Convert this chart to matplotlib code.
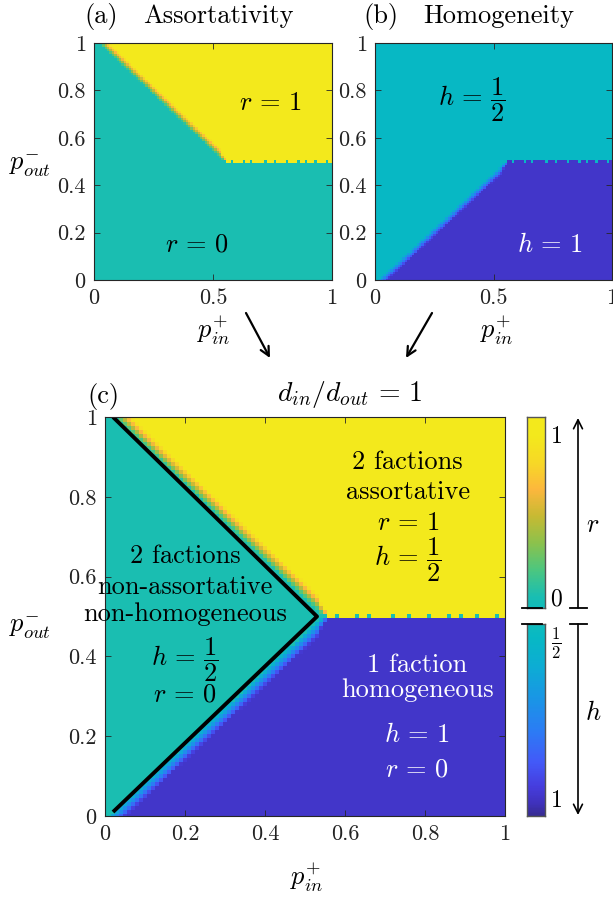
import numpy as np
import matplotlib
matplotlib.use("Agg")
import matplotlib.pyplot as plt
from matplotlib.colors import LinearSegmentedColormap

plt.rcParams['font.family'] = 'serif'
plt.rcParams['font.serif'] = ['cmr10']
plt.rcParams['mathtext.fontset'] = 'cm'
plt.rcParams['axes.formatter.use_mathtext'] = True

# phase boundaries (p_in^+, p_out^-)
upper_x = [0.0, 0.02, 0.545, 1.0]
upper_y = [1.02, 1.0, 0.5, 0.5]
lower_x = [0.0, 0.02, 0.545, 1.0]
lower_y = [-0.01, 0.01, 0.5, 0.5]
# width of the smooth transition band along the boundary
band_x = [0.0, 0.53, 0.56, 1.0]
band_w = [0.04, 0.04, 0.002, 0.002]
# cells on the p_out = 0.5 row that stay in the mixed state
notch_pin = [0.58, 0.63, 0.66, 0.72, 0.76, 0.81, 0.86, 0.89, 0.93, 0.98]
# black separatrix in panel (c)
sep_x = [0.02, 0.53, 0.02]
sep_y = [1.0, 0.5, 0.01]

xticks_small = [0, 0.5, 1]
xticks_big = [0, 0.2, 0.4, 0.6, 0.8, 1]
yticks = [0, 0.2, 0.4, 0.6, 0.8, 1]

# parula-like colormap
parula = LinearSegmentedColormap.from_list('parula', [
    (0.00, (0.208, 0.166, 0.529)),
    (0.04, (0.250, 0.195, 0.740)),
    (0.08, (0.275, 0.240, 0.870)),
    (0.14, (0.265, 0.350, 0.975)),
    (0.22, (0.170, 0.490, 0.960)),
    (0.30, (0.100, 0.590, 0.900)),
    (0.38, (0.050, 0.680, 0.830)),
    (0.45, (0.030, 0.725, 0.770)),
    (0.52, (0.100, 0.745, 0.700)),
    (0.60, (0.300, 0.780, 0.500)),
    (0.68, (0.550, 0.760, 0.300)),
    (0.76, (0.780, 0.730, 0.200)),
    (0.84, (0.990, 0.720, 0.240)),
    (0.92, (0.970, 0.850, 0.150)),
    (1.00, (0.955, 0.915, 0.110)),
])

def r_to_v(r):
    return 0.52 + 0.48 * r

def h_to_v(h):
    return 0.45 - (h - 0.5) / 0.5 * (0.45 - 0.055)

grid = np.linspace(0, 1, 101)
P_in, P_out = np.meshgrid(grid, grid)
up = np.interp(P_in, upper_x, upper_y)
lo = np.interp(P_in, lower_x, lower_y)
w = np.interp(P_in, band_x, band_w)
r = np.clip((P_out - up) / w, 0, 1)
h = 0.5 + 0.5 * np.clip((lo - P_out) / w, 0, 1)

row = 50
flat = grid > 0.555
notch = np.zeros_like(flat)
for p in notch_pin:
    notch[int(round(p * 100))] = True
r[row, flat & ~notch] = 1
h[row, flat & ~notch] = 1

v_a = r_to_v(r)
v_b = h_to_v(h)
v_c = np.where(h > 0.5, v_b, v_a)
v_c[row, flat & ~notch] = 1.0
v_c[row, flat & notch] = r_to_v(0)

W, H = 613, 898
fig = plt.figure(figsize=(W / 100, H / 100), dpi=100)

def box(x0, y0, x1, y1):
    return [x0 / W, (H - y1) / H, (x1 - x0) / W, (y1 - y0) / H]

ext = [-0.005, 1.005, -0.005, 1.005]
edge = '#262626'

def style(ax, xt):
    ax.set_xlim(0, 1)
    ax.set_ylim(0, 1)
    ax.set_xticks(xt)
    ax.set_yticks(yticks)
    ax.set_xticklabels(['%g' % t for t in xt])
    ax.set_yticklabels(['%g' % t for t in yticks])
    ax.tick_params(direction='in', length=4, width=0.6, top=True, right=True,
                   labelsize=16, colors=edge, labelcolor='#222222', pad=6)
    for s in ax.spines.values():
        s.set_color(edge)
        s.set_linewidth(0.8)

half = r'\dfrac{1}{2}'
fs = 19

ax_a = fig.add_axes(box(94, 43, 332, 280))
ax_a.imshow(v_a, cmap=parula, vmin=0, vmax=1, origin='lower', extent=ext,
            interpolation='nearest', aspect='auto')
style(ax_a, xticks_small)
ax_a.text(0.74, 0.747, r'$r\,=\,1$', fontsize=fs, ha='center', va='center')
ax_a.text(0.43, 0.148, r'$r\,=\,0$', fontsize=fs, ha='center', va='center')

ax_b = fig.add_axes(box(375, 43, 612, 280))
ax_b.imshow(v_b, cmap=parula, vmin=0, vmax=1, origin='lower', extent=ext,
            interpolation='nearest', aspect='auto')
style(ax_b, xticks_small)
ax_b.text(0.41, 0.76, r'$h\,=\,%s$' % half, fontsize=fs, ha='center', va='center')
ax_b.text(0.74, 0.148, r'$h\,=\,1$', fontsize=fs, ha='center', va='center', color='white')

ax_c = fig.add_axes(box(105, 417, 505, 816))
ax_c.imshow(v_c, cmap=parula, vmin=0, vmax=1, origin='lower', extent=ext,
            interpolation='nearest', aspect='auto')
ax_c.plot(sep_x, sep_y, color='black', lw=2.8, solid_capstyle='butt')
style(ax_c, xticks_big)
for txt, x, y, c in [
    ('2 factions', 0.757, 0.887, 'black'),
    ('assortative', 0.757, 0.812, 'black'),
    (r'$r\,=\,1$', 0.757, 0.734, 'black'),
    (r'$h\,=\,%s$' % half, 0.757, 0.642, 'black'),
    ('2 factions', 0.2, 0.652, 'black'),
    ('non-assortative', 0.2, 0.574, 'black'),
    ('non-homogeneous', 0.2, 0.506, 'black'),
    (r'$h\,=\,%s$' % half, 0.2, 0.391, 'black'),
    (r'$r\,=\,0$', 0.2, 0.303, 'black'),
    ('1 faction', 0.78, 0.378, 'white'),
    ('homogeneous', 0.78, 0.316, 'white'),
    (r'$h\,=\,1$', 0.78, 0.203, 'white'),
    (r'$r\,=\,0$', 0.78, 0.115, 'white'),
]:
    ax_c.text(x, y, txt, fontsize=fs, ha='center', va='center', color=c)

# split colorbar
cb_r = fig.add_axes(box(527, 417, 545, 608))
r_lim = (-0.068, 1.11)
rg = np.linspace(r_lim[0], r_lim[1], 200)[:, None]
cb_r.imshow(r_to_v(rg), cmap=parula, vmin=0, vmax=1, origin='lower',
            extent=[0, 1, r_lim[0], r_lim[1]], aspect='auto')
cb_r.set_ylim(*r_lim)
cb_r.set_xticks([])
cb_r.yaxis.tick_right()
cb_r.set_yticks([0, 1])
cb_r.set_yticklabels(['0', '1'])

cb_h = fig.add_axes(box(527, 624, 545, 816))
h_lim = (0.46, 1.056)
hg = np.linspace(h_lim[0], h_lim[1], 200)[:, None]
cb_h.imshow(h_to_v(hg), cmap=parula, vmin=0, vmax=1, origin='lower',
            extent=[0, 1, h_lim[0], h_lim[1]], aspect='auto')
cb_h.set_ylim(h_lim[1], h_lim[0])
cb_h.set_xticks([])
cb_h.yaxis.tick_right()
cb_h.set_yticks([0.5, 1])
cb_h.set_yticklabels([r'$\frac{1}{2}$', '1'])
for cb in (cb_r, cb_h):
    cb.tick_params(length=0, labelsize=17, pad=4)
    for s in cb.spines.values():
        s.set_color('#555555')
        s.set_linewidth(1.0)

# overlay in pixel coordinates for titles, labels and arrows
ov = fig.add_axes([0, 0, 1, 1])
ov.set_xlim(0, W)
ov.set_ylim(H, 0)
ov.axis('off')

ov.text(101, 16, '(a)', fontsize=fs, ha='center', va='center')
ov.text(218, 16, 'Assortativity', fontsize=fs, ha='center', va='center')
ov.text(381, 16, '(b)', fontsize=fs, ha='center', va='center')
ov.text(499, 16, 'Homogeneity', fontsize=fs, ha='center', va='center')
ov.text(103, 396, '(c)', fontsize=fs, ha='center', va='center')
ov.text(350, 394, r'$d_{in}/d_{out}\,=\,1$', fontsize=20, ha='center', va='center')

ov.text(30, 166, r'$p_{out}^{-}$', fontsize=fs, ha='center', va='center')
ov.text(30, 628, r'$p_{out}^{-}$', fontsize=fs, ha='center', va='center')
ov.text(214, 330, r'$p_{in}^{+}$', fontsize=fs, ha='center', va='center')
ov.text(497, 330, r'$p_{in}^{+}$', fontsize=fs, ha='center', va='center')
ov.text(307, 877, r'$p_{in}^{+}$', fontsize=fs, ha='center', va='center')

arrow = dict(arrowstyle='->', color='black', lw=1.6, mutation_scale=16, shrinkA=0, shrinkB=0)
ov.annotate('', xy=(270, 358), xytext=(246, 313), arrowprops=arrow)
ov.annotate('', xy=(406, 358), xytext=(432, 313), arrowprops=arrow)

# break marks and range arrows beside the colorbar
for y in (608, 624):
    ov.plot([522, 542], [y, y], color='black', lw=1.3)
    ov.plot([570, 587], [y, y], color='black', lw=1.3)
ov.annotate('', xy=(578, 418), xytext=(578, 608), arrowprops=dict(arrow, lw=1.2))
ov.annotate('', xy=(578, 815), xytext=(578, 624), arrowprops=dict(arrow, lw=1.2))
ov.text(593, 525, r'$r$', fontsize=fs, ha='center', va='center')
ov.text(593, 713, r'$h$', fontsize=fs, ha='center', va='center')

fig.savefig('out.png', dpi=100)
